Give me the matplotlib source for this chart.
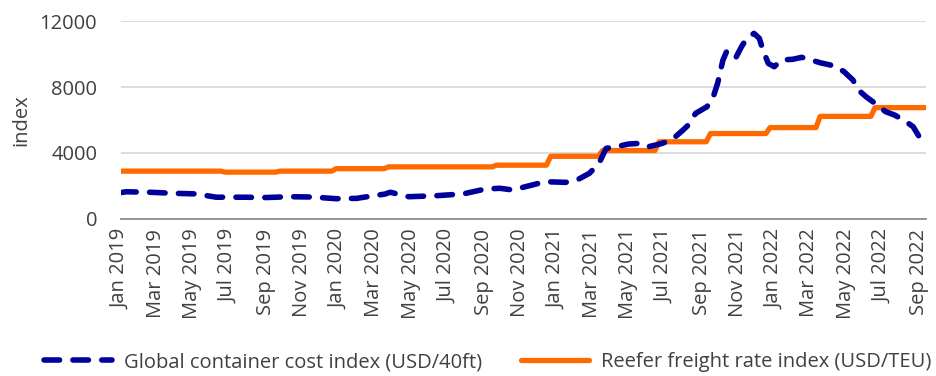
import matplotlib
matplotlib.use("Agg")
import matplotlib.pyplot as plt
import pandas as pd
from matplotlib.lines import Line2D

plt.rcParams['font.family'] = ['Open Sans', 'DejaVu Sans']

# Global container cost index (USD/40ft)
container_dates = [
    "2019-01-01", "2019-01-10", "2019-02-19", "2019-03-28", "2019-05-07", "2019-06-10",
    "2019-07-25", "2019-09-01", "2019-10-13", "2019-11-19", "2019-12-28", "2020-02-01",
    "2020-02-13", "2020-03-19", "2020-03-28", "2020-04-28", "2020-06-13", "2020-07-16",
    "2020-08-01", "2020-09-04", "2020-09-28", "2020-10-19", "2020-11-10", "2020-12-13",
    "2021-01-16", "2021-02-04", "2021-02-25", "2021-03-13", "2021-03-25", "2021-04-16",
    "2021-05-01", "2021-05-22", "2021-06-04", "2021-06-25", "2021-07-13", "2021-08-01",
    "2021-08-10", "2021-08-22", "2021-09-10", "2021-09-19", "2021-09-28", "2021-10-07",
    "2021-10-13", "2021-10-19", "2021-10-28", "2021-11-07", "2021-11-16", "2021-11-28",
    "2021-12-07", "2021-12-13", "2021-12-22", "2022-01-01", "2022-01-13", "2022-02-01",
    "2022-02-16", "2022-03-04", "2022-03-19", "2022-04-13", "2022-04-28", "2022-05-13",
    "2022-05-22", "2022-06-04", "2022-06-19", "2022-07-07", "2022-07-22", "2022-08-10",
    "2022-08-22", "2022-09-01", "2022-09-10",
]
container_values = [
    1600, 1650, 1620, 1560, 1520, 1320,
    1320, 1300, 1350, 1330, 1230, 1250,
    1320, 1510, 1620, 1350, 1410, 1490,
    1550, 1820, 1860, 1760, 1960, 2260,
    2220, 2360, 2770, 3370, 4280, 4420,
    4540, 4590, 4380, 4560, 4790, 5390,
    5700, 6400, 6800, 7210, 8220, 9640,
    10140, 10040, 9740, 10440, 10950, 11250,
    10950, 10240, 9430, 9230, 9640, 9680,
    9800, 9640, 9470, 9270, 8930, 8420,
    7820, 7410, 7010, 6500, 6300, 5900,
    5590, 4990, 4680,
]

# Reefer freight rate index (USD/TEU): level changes
reefer_change_dates = [
    "2019-01-01", "2019-06-25", "2019-09-25", "2019-12-28", "2020-03-25",
    "2020-09-22", "2020-12-22", "2021-03-19", "2021-06-22", "2021-09-16",
    "2021-12-25", "2022-03-19", "2022-06-19",
]
reefer_levels = [
    2900, 2840, 2900, 3050, 3160,
    3260, 3800, 4150, 4680, 5180,
    5540, 6220, 6750,
]
series_end = "2022-09-12"

tick_labels = [
    "Jan 2019", "Mar 2019", "May 2019", "Jul 2019", "Sep 2019", "Nov 2019",
    "Jan 2020", "Mar 2020", "May 2020", "Jul 2020", "Sep 2020", "Nov 2020",
    "Jan 2021", "Mar 2021", "May 2021", "Jul 2021", "Sep 2021", "Nov 2021",
    "Jan 2022", "Mar 2022", "May 2022", "Jul 2022", "Sep 2022",
]

BLUE = "#00009A"
ORANGE = "#FF6A00"
TEXT = "#404040"
FS = 14.5

fig = plt.figure(figsize=(9.36, 3.76), dpi=100)
ax = fig.add_axes([0.129, 0.4176, 0.860, 0.5265])

cx = pd.to_datetime(container_dates)
ax.plot(cx, container_values, color=BLUE, lw=4.0, linestyle=(0, (2.8, 2.4)),
        dash_capstyle='round', solid_joinstyle='round', zorder=3)

# weekly series: each level change ramps over one week
rd = pd.to_datetime(reefer_change_dates)
end = pd.Timestamp(series_end)
rx, ry = [], []
for i, lvl in enumerate(reefer_levels):
    rx.append(rd[i])
    ry.append(lvl)
    stop = rd[i + 1] - pd.Timedelta(days=7) if i + 1 < len(rd) else end
    rx.append(stop)
    ry.append(lvl)
ax.plot(rx, ry, color=ORANGE, lw=3.8, solid_joinstyle='round', zorder=2)

ax.set_xlim(pd.Timestamp("2019-01-01"), end)
ax.set_ylim(0, 12000)
ax.set_yticks([0, 4000, 8000, 12000])
ax.yaxis.grid(True, color="#D9D9D9", lw=1.3)
ax.set_axisbelow(True)
for s in ["top", "right", "left"]:
    ax.spines[s].set_visible(False)
ax.spines["bottom"].set_color("#8C8C8C")
ax.spines["bottom"].set_linewidth(1.3)

ticks = pd.date_range("2019-01-01", "2022-09-01", freq="2MS")
ax.set_xticks(ticks)
ax.set_xticklabels(tick_labels, rotation=90, ha="center", va="top")
ax.tick_params(axis="both", length=0, labelsize=FS, colors=TEXT)
ax.tick_params(axis="x", pad=7)
ax.tick_params(axis="y", pad=17)
ax.set_ylabel("index", fontsize=FS, color=TEXT, labelpad=6)

handles = [
    Line2D([], [], color=BLUE, lw=4.0, linestyle=(0, (2.8, 2.4)), dash_capstyle='round'),
    Line2D([], [], color=ORANGE, lw=3.8, solid_capstyle='round'),
]
fig.legend(handles, ["Global container cost index (USD/40ft)", "Reefer freight rate index (USD/TEU)"],
           loc="center", bbox_to_anchor=(0.521, 0.037), ncol=2, frameon=False,
           fontsize=FS, labelcolor=TEXT, handlelength=3.4, columnspacing=1.9,
           handletextpad=0.6, borderpad=0.2)

fig.savefig("out.png", dpi=100)
